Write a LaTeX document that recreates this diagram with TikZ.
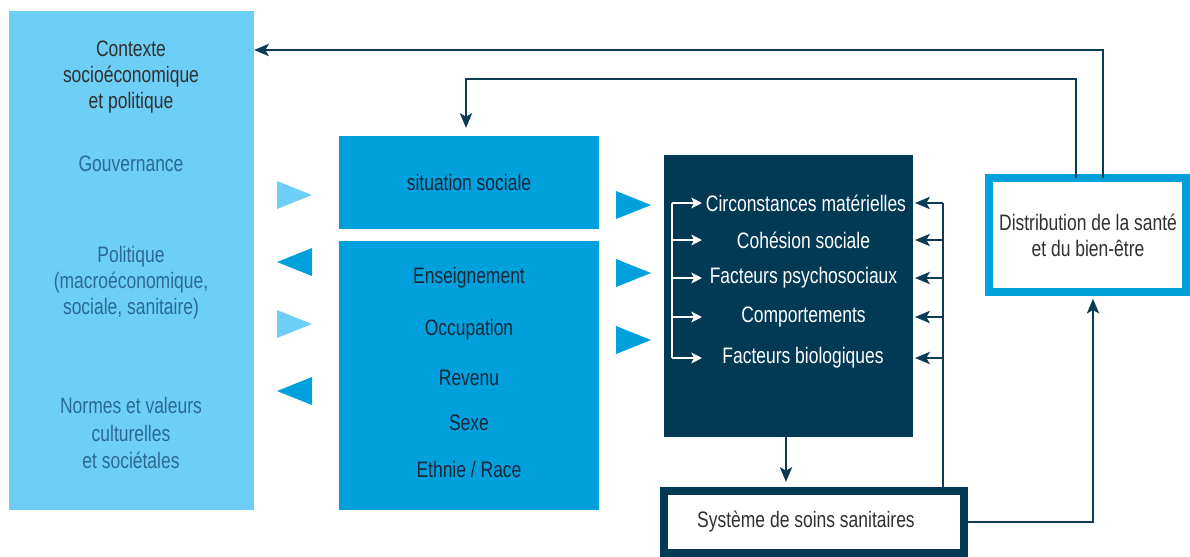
\documentclass[tikz,border=0pt]{standalone}
\usepackage{fontspec}
\setmainfont{Liberation Sans}[FakeStretch=0.78]
\usetikzlibrary{arrows.meta,fit}
\definecolor{lb}{HTML}{6DCFF6}
\definecolor{mb}{HTML}{00A0DC}
\definecolor{dk}{HTML}{023A56}
\definecolor{ln}{HTML}{0B3B55}
\definecolor{txg}{HTML}{303030}
\definecolor{txb}{HTML}{2A6A94}
\definecolor{txm}{HTML}{18283A}
\tikzset{
  box/.style={inner sep=0pt, outer sep=0pt},
  lt/.style={align=center, text=txb},
  mt/.style={align=center, text=txm},
  wt/.style={text=white, inner sep=1pt},
  conn/.style={draw=ln, line width=2.2pt, -{Stealth[length=11pt,width=9pt,inset=2.5pt]}},
  conn0/.style={draw=ln, line width=2.2pt},
  wconn/.style={draw=white, line width=1.8pt, -{Stealth[length=8pt,width=8pt,inset=2pt]}},
  wconn0/.style={draw=white, line width=1.8pt},
}
\begin{document}
\begin{tikzpicture}[x=0.75pt,y=-0.75pt,font=\fontsize{16.8}{19.5}\selectfont]
\useasboundingbox (0,0) rectangle (1190,557);
% boxes
\node[box, fill=lb, fit={(9,11) (254,510)}] (ctx) {};
\node[box, fill=mb, fit={(339,136) (599,229)}] (sit) {};
\node[box, fill=mb, fit={(339,241) (599,510)}] (strat) {};
\node[box, fill=dk, fit={(664,155) (913,437)}] (dark) {};
\node[box, draw=dk, line width=6pt, fill=white, fit={(664,491) (964,553)}] (syst) {};
\node[box, draw=mb, line width=6pt, fill=white, fit={(989,178) (1186,292)}] (dist) {};
% left texts
\node[lt, text=txg] (t1) at (131,77) {Contexte\\socioéconomique\\et politique};
\node[lt] (t2) at (131,164) {Gouvernance};
\node[lt] (t3) at (131,283) {Politique\\(macroéconomique,\\sociale, sanitaire)};
\node[lt, font=\fontsize{16.8}{20.5}\selectfont] (t4) at (131,433) {Normes et valeurs\\culturelles\\et sociétales};
% middle texts
\node[mt] (s0) at (469,182) {situation sociale};
\node[mt] (s1) at (469,278) {Enseignement};
\node[mt] (s2) at (469,330) {Occupation};
\node[mt] (s3) at (469,378) {Revenu};
\node[mt] (s4) at (469,423) {Sexe};
\node[mt] (s5) at (469,469) {Ethnie / Race};
% dark box texts
\node[wt] (f1) at (806,203) {Circonstances matérielles};
\node[wt] (f2) at (803.5,240) {Cohésion sociale};
\node[wt] (f3) at (803.5,278) {Facteurs psychosociaux};
\node[wt] (f4) at (803.5,317) {Comportements};
\node[wt] (f5) at (803,358) {Facteurs biologiques};
% other texts
\node[text=txg] (st) at (806,522) {Système de soins sanitaires};
\node[text=txg, align=center] (dt) at (1088,235) {Distribution de la santé\\et du bien-être};
% triangles left
\fill[lb] (277,181) -- (312,195) -- (277,209) -- cycle;
\fill[mb] (312,248) -- (277,262) -- (312,276) -- cycle;
\fill[lb] (277,310) -- (312,324) -- (277,338) -- cycle;
\fill[mb] (312,377) -- (277,391) -- (312,405) -- cycle;
% triangles right
\fill[mb] (616,191) -- (651,205) -- (616,219) -- cycle;
\fill[mb] (616,259) -- (651,273) -- (616,287) -- cycle;
\fill[mb] (616,326) -- (651,340) -- (616,354) -- cycle;
% white bus
\coordinate (wb1) at (672,203);
\coordinate (wb5) at (672,358);
\draw[wconn0] (wb1) -- (wb5);
\foreach \f in {f1,f2,f3,f4,f5}{
  \draw[wconn] (\f.west -| wb1) -- (\f.west -| 702,0);
}
% dark bus on right
\coordinate (db1) at (943,203);
\draw[conn0] (db1) -- (syst.north -| db1);
\foreach \f in {f1,f2,f3,f4,f5}{
  \draw[conn] (\f.west -| db1) -- (\f.west -| 915,0);
}
% down arrow
\draw[conn, shorten >=6.75pt] (dark.south -| 786,0) -- (syst.north -| 786,0);
% systeme -> distribution
\draw[conn, shorten >=5pt] (syst.east) -| (dist.south -| 1093,0);
% feedback arrows
\draw[conn] (dist.north -| 1103,0) |- (ctx.east |- 0,50);
\draw[conn, shorten >=6pt] (dist.north -| 1076,0) |- (466,79) -- (sit.north -| 466,0);
\end{tikzpicture}
\end{document}
